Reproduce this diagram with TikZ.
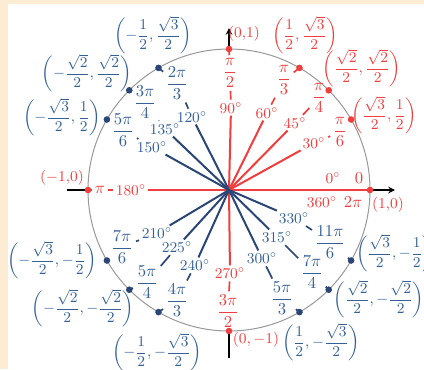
\documentclass[tikz,border=0pt]{standalone}
\usepackage{amsmath}
\definecolor{dodo}{RGB}{240,62,62}
\definecolor{xanh}{RGB}{52,96,152}
\definecolor{xanhdam}{RGB}{42,70,118}
\definecolor{nen}{RGB}{253,236,212}
\newcommand{\toado}[2]{\small$\biggl(#1,#2\biggr)$}

\begin{document}
\begin{tikzpicture}[>=stealth, x=0.6pt, y=0.6pt,
		do/.style={text=dodo, inner sep=1pt},
		xa/.style={text=xanh, inner sep=1pt},
		goc/.style={font=\small},
		tiado/.style={dodo, line width=1.2pt},
		tiaxanh/.style={xanhdam, line width=1.2pt},
		moc/.style={line width=1pt, shorten <=0.5pt, shorten >=0.5pt}]
			% Nền
			\fill[nen] (-229,190) rectangle (195,-179);
			\fill[white] (-221,186) rectangle (195,-179);
			\useasboundingbox (-229,190) rectangle (195,-179);
			
			\coordinate (O) at (0,0);
			\coordinate (trai) at (-162,0);
			\coordinate (phai) at (166,0);
			\coordinate (tren) at (0,162);
			\coordinate (duoi) at (0,-168);
			
			% Đường tròn lượng giác
			\draw[gray!80, line width=0.6pt] (O) circle (141);
			
			% Các điểm trên đường tròn
			\foreach \g in {0,30,45,60,90,180,270}
				\coordinate (d\g) at (\g:141);
			\foreach \g in {120,135,150,210,225,240,300,315,330}
				\coordinate (d\g) at (\g:141);
			
			% Trục (màu đen)
			\draw[black, line width=0.8pt] (d180) -- (trai);
			\draw[->, black, line width=0.8pt] (d0) -- (phai);
			\draw[->, black, line width=0.8pt] (d90) -- (tren);
			\draw[black, line width=0.8pt] (d270) -- (duoi);
			
			% Nhãn trên các trục
			\node[do, goc] (g0) at (104,12) {$0^\circ$};
			\node[do] (r0) at (130,12) {$0$};
			\node[do, goc] (g360) at (93,-12) {$360^\circ$};
			\node[do] (r360) at (124,-12) {$2\pi$};
			\node[do, goc] (c0) at (159,-15) {$(1{,}0)$};
			\node[do] (r90) at (1,117) {$\dfrac{\pi}{2}$};
			\node[do, goc] (g90) at (2,82) {$90^\circ$};
			\node[do, goc] (c90) at (15,156) {$(0{,}1)$};
			\node[do] (r180) at (-129,0) {$\pi$};
			\node[do, goc] (g180) at (-98,0) {$180^\circ$};
			\node[do, goc] (c180) at (-167,12) {$(-1{,}0)$};
			\node[do, goc] (g270) at (1,-83) {$270^\circ$};
			\node[do] (r270) at (-1,-121) {$\dfrac{3\pi}{2}$};
			\node[do, goc] (c270) at (27,-150) {$(0,-1)$};
			
			\draw[tiado] (O) -- (d0);
			\draw[tiado] (O) -- (g90);
			\draw[tiado] (g180) -- (O);
			\draw[tiado] (O) -- (g270);
			\draw[dodo, moc] (d90) -- (r90);
			\draw[dodo, moc] (r90) -- (g90);
			\draw[dodo, moc] (d180) -- (r180);
			\draw[dodo, moc] (r180) -- (g180);
			\draw[dodo, moc] (g270) -- (r270);
			\draw[dodo, moc] (r270) -- (d270);
			
			% Góc phần tư thứ nhất (màu đỏ)
			\node[do, goc] (g30) at (85,47) {$30^\circ$};
			\node[do] (r30) at (111,58) {$\dfrac{\pi}{6}$};
			\node[do] (c30) at (155,75) {\toado{\dfrac{\sqrt{3}}{2}}{\dfrac{1}{2}}};
			\node[do, goc] (g45) at (66,67) {$45^\circ$};
			\node[do] (r45) at (90,92) {$\dfrac{\pi}{4}$};
			\node[do] (c45) at (133,122) {\toado{\dfrac{\sqrt{2}}{2}}{\dfrac{\sqrt{2}}{2}}};
			\node[do, goc] (g60) at (38,77) {$60^\circ$};
			\node[do] (r60) at (55,110) {$\dfrac{\pi}{3}$};
			\node[do] (c60) at (76,155) {\toado{\dfrac{1}{2}}{\dfrac{\sqrt{3}}{2}}};
			\foreach \g in {30,45,60}{
				\draw[tiado] (O) -- (g\g);
				\draw[dodo, moc] (d\g) -- (r\g);
				\draw[dodo, moc] (r\g) -- (g\g);
			}
			
			% Các góc còn lại (màu xanh)
			\node[xa, goc] (g120) at (-37,73) {$120^\circ$};
			\node[xa] (r120) at (-52,107) {$\dfrac{2\pi}{3}$};
			\node[xa] (c120) at (-76,155) {\toado{-\dfrac{1}{2}}{\dfrac{\sqrt{3}}{2}}};
			\node[xa, goc] (g135) at (-64,61) {$135^\circ$};
			\node[xa] (r135) at (-84,88) {$\dfrac{3\pi}{4}$};
			\node[xa] (c135) at (-142,117) {\toado{-\dfrac{\sqrt{2}}{2}}{\dfrac{\sqrt{2}}{2}}};
			\node[xa, goc] (g150) at (-77,43) {$150^\circ$};
			\node[xa] (r150) at (-106,60) {$\dfrac{5\pi}{6}$};
			\node[xa] (c150) at (-167,73) {\toado{-\dfrac{\sqrt{3}}{2}}{\dfrac{1}{2}}};
			\node[xa, goc] (g210) at (-72,-43) {$210^\circ$};
			\node[xa] (r210) at (-107,-57) {$\dfrac{7\pi}{6}$};
			\node[xa] (c210) at (-177,-70) {\toado{-\dfrac{\sqrt{3}}{2}}{-\dfrac{1}{2}}};
			\node[xa, goc] (g225) at (-52,-57) {$225^\circ$};
			\node[xa] (r225) at (-82,-92) {$\dfrac{5\pi}{4}$};
			\node[xa] (c225) at (-146,-118) {\toado{-\dfrac{\sqrt{2}}{2}}{-\dfrac{\sqrt{2}}{2}}};
			\node[xa, goc] (g240) at (-34,-75) {$240^\circ$};
			\node[xa] (r240) at (-52,-110) {$\dfrac{4\pi}{3}$};
			\node[xa] (c240) at (-72,-162) {\toado{-\dfrac{1}{2}}{-\dfrac{\sqrt{3}}{2}}};
			\node[xa, goc] (g300) at (33,-68) {$300^\circ$};
			\node[xa] (r300) at (53,-108) {$\dfrac{5\pi}{3}$};
			\node[xa] (c300) at (92,-152) {\toado{\dfrac{1}{2}}{-\dfrac{\sqrt{3}}{2}}};
			\node[xa, goc] (g315) at (48,-47) {$315^\circ$};
			\node[xa] (r315) at (83,-82) {$\dfrac{7\pi}{4}$};
			\node[xa] (c315) at (150,-109) {\toado{\dfrac{\sqrt{2}}{2}}{-\dfrac{\sqrt{2}}{2}}};
			\node[xa, goc] (g330) at (65,-28) {$330^\circ$};
			\node[xa] (r330) at (101,-52) {$\dfrac{11\pi}{6}$};
			\node[xa] (c330) at (166,-63) {\toado{\dfrac{\sqrt{3}}{2}}{-\dfrac{1}{2}}};
			\foreach \g in {120,135,150,210,225,240,300,315,330}{
				\draw[tiaxanh] (O) -- (g\g);
				\draw[xanhdam, moc] (d\g) -- (r\g);
				\draw[xanhdam, moc] (r\g) -- (g\g);
				\fill[xanhdam] (d\g) circle (3.3);
			}
			
			% Điểm màu đỏ
			\foreach \g in {0,30,45,60,90,180,270}
				\fill[dodo] (d\g) circle (3.3);
		\end{tikzpicture}
\end{document}
